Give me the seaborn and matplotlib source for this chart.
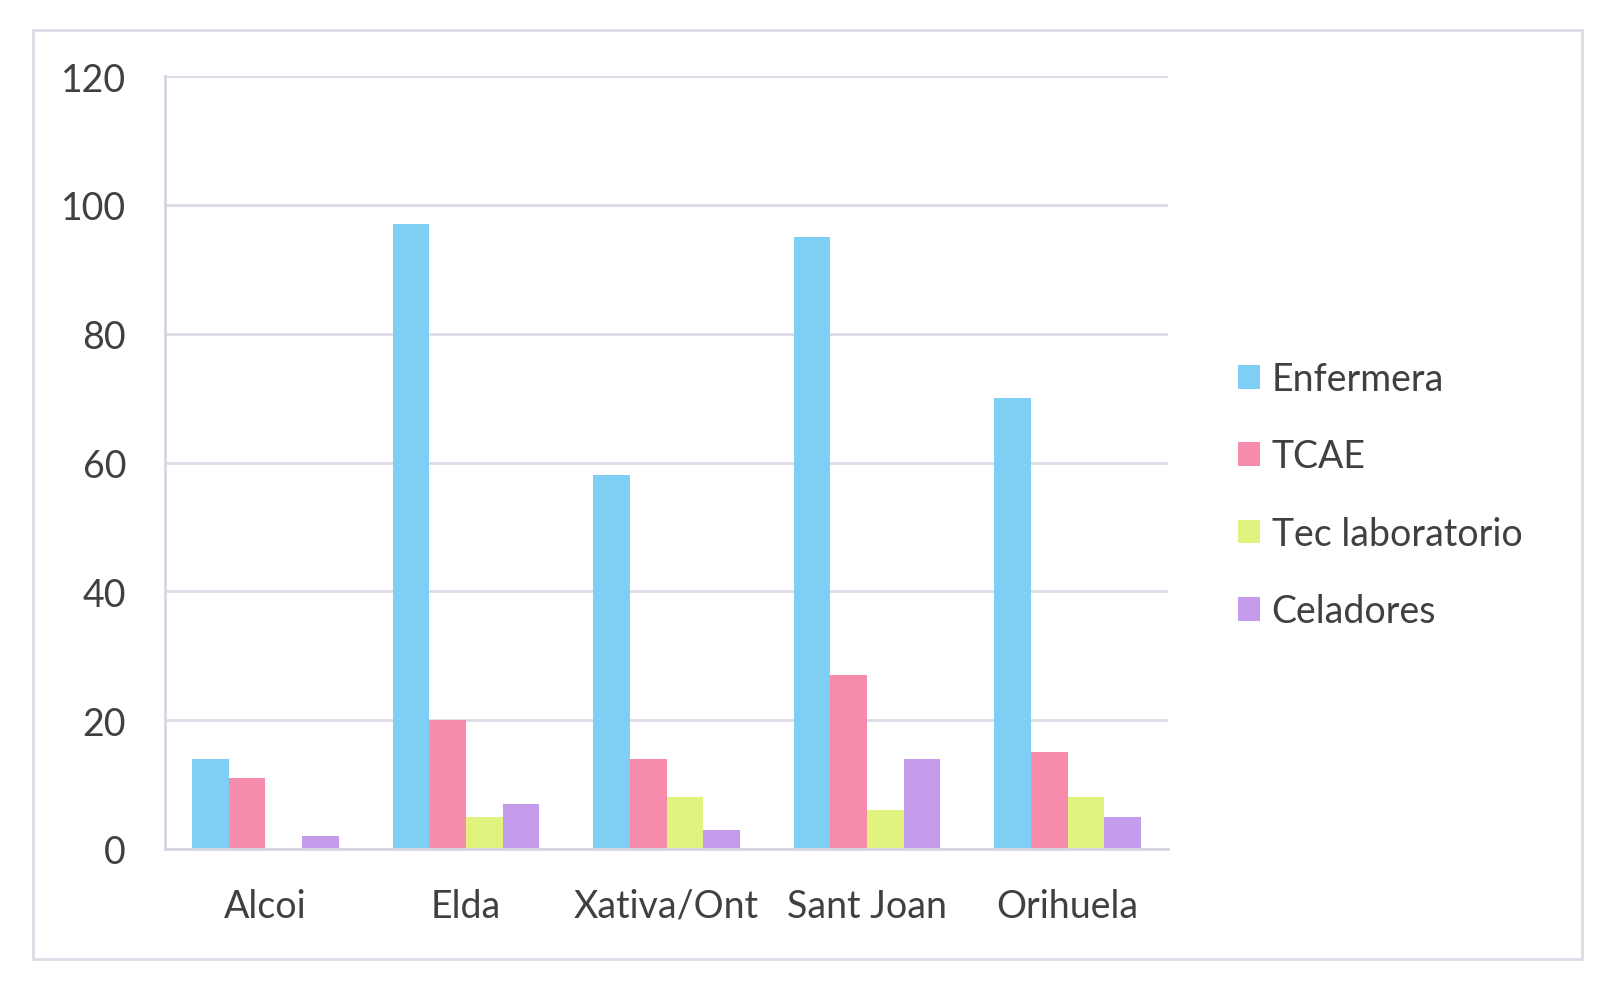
import pandas as pd
import matplotlib
matplotlib.use("Agg")
import matplotlib.pyplot as plt
import seaborn as sns
from matplotlib.patches import Rectangle, Patch

hospitales = ['Alcoi', 'Elda', 'Xativa/Ont', 'Sant Joan', 'Orihuela']
categorias = ['Enfermera', 'TCAE', 'Tec laboratorio', 'Celadores']
enfermera = [14, 97, 58, 95, 70]
tcae = [11, 20, 14, 27, 15]
tec_lab = [0, 5, 8, 6, 8]
celadores = [2, 7, 3, 14, 5]
colores = ['#7fcff5', '#f68cab', '#e2f27f', '#c49ceb']

df = pd.DataFrame({
    'hospital': hospitales * 4,
    'categoria': sum([[c] * len(hospitales) for c in categorias], []),
    'valor': enfermera + tcae + tec_lab + celadores,
})

sns.set_style('white')
plt.rcParams['font.family'] = ['Lato', 'DejaVu Sans']

fig = plt.figure(figsize=(16.16, 9.87), dpi=100)
ax = fig.add_axes([165 / 1616, 1 - 850 / 987, (1168 - 165) / 1616, (850 - 77) / 987])

sns.barplot(data=df, x='hospital', y='valor', hue='categoria', palette=colores,
            width=0.73, gap=0, saturation=1, linewidth=0, edgecolor='none',
            ax=ax, legend=False)

ax.set_ylim(0, 120)
ax.set_xlim(-0.5, 4.5)
ax.set_yticks(range(0, 121, 20))
ax.yaxis.grid(True, color='#dcdce8', linewidth=2)
ax.set_axisbelow(True)
ax.set_xlabel('')
ax.set_ylabel('')

for s in ['top', 'right']:
    ax.spines[s].set_visible(False)
for s in ['left', 'bottom']:
    ax.spines[s].set_color('#d6d6e2')
    ax.spines[s].set_linewidth(2)

ax.tick_params(axis='y', length=12, width=2, color='#dcdce8', labelsize=27,
               labelcolor='#404040', pad=16)
ax.set_xticks(range(len(hospitales)))
ax.set_xticklabels(hospitales)
ax.tick_params(axis='x', length=0, labelsize=27, labelcolor='#404040', pad=28)
# separadores entre grupos
ax.set_xticks([i - 0.5 for i in range(len(hospitales) + 1)], minor=True)
ax.tick_params(axis='x', which='minor', length=14, width=2, color='#d6d6e2')

handles = [Patch(facecolor=c, edgecolor='none') for c in colores]
leg = fig.legend(handles, categorias, loc='center left', bbox_to_anchor=(1204 / 1616, 1 - 496 / 987),
                 frameon=False, fontsize=27, labelcolor='#404040', handlelength=0.6,
                 handleheight=0.6, handletextpad=0.3, labelspacing=1.1)

fig.patches.append(Rectangle((33 / 1616, 1 - 960 / 987), (1582 - 33) / 1616, (960 - 31) / 987,
                             transform=fig.transFigure, fill=False, edgecolor='#dcdce6',
                             linewidth=2))

fig.savefig('out.png', dpi=100, facecolor='white')
